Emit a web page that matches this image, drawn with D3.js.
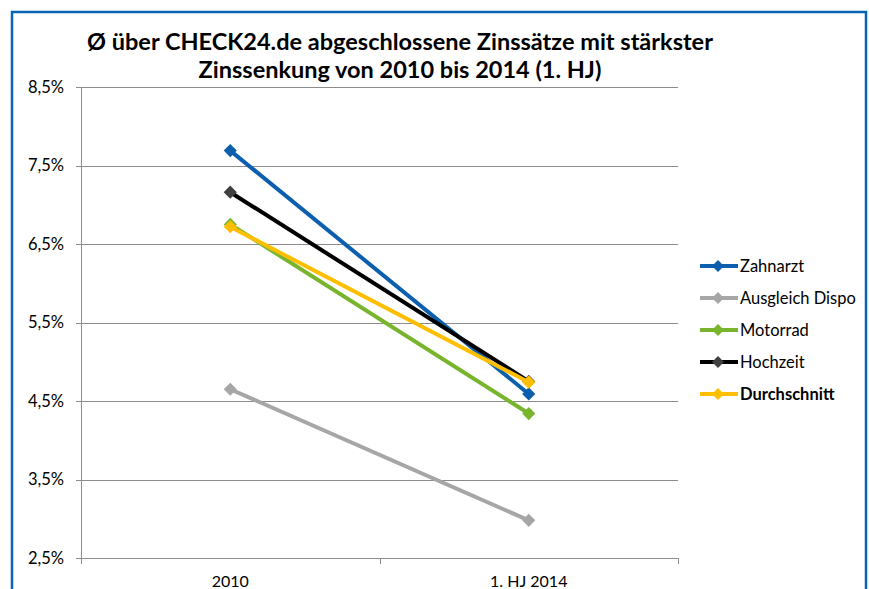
<!DOCTYPE html>
<html>
<head>
<meta charset="utf-8">
<script src="https://cdn.jsdelivr.net/npm/d3@7"></script>
<style>
  body { margin: 0; background: #fff; }
  text { font-family: Lato, "Open Sans", sans-serif; }
</style>
</head>
<body>
<div id="chart"></div>
<script>
var width = 869;
var height = 589;

// data
var categories = ["2010", "1. HJ 2014"];
var seriesNames = ["Zahnarzt", "Ausgleich Dispo", "Motorrad", "Hochzeit", "Durchschnitt"];
var zahnarzt = [7.69, 4.59];
var ausgleichDispo = [4.65, 2.98];
var motorrad = [6.75, 4.34];
var hochzeit = [7.16, 4.75];
var durchschnitt = [6.72, 4.74];
var yTicks = [2.5, 3.5, 4.5, 5.5, 6.5, 7.5, 8.5];

var lineColors = ["#0b5fae", "#a6a6a6", "#78b52c", "#000000", "#ffbf00"];
var markerColors = ["#0b5fae", "#a6a6a6", "#78b52c", "#404040", "#ffbf00"];

var series = [zahnarzt, ausgleichDispo, motorrad, hochzeit, durchschnitt].map(function(v, i){
  return { name: seriesNames[i], values: v, line: lineColors[i], marker: markerColors[i] };
});

var svg = d3.select("#chart")
  .append("svg")
  .attr("width", width)
  .attr("height", height);

// chart frame
svg.append("rect")
  .attr("x", 12).attr("y", 12)
  .attr("width", 854).attr("height", 600)
  .attr("fill", "none")
  .attr("stroke", "#0a63b4")
  .attr("stroke-width", 2.5);

var plot = { left: 81, right: 678, top: 87, bottom: 558 };

var x = d3.scaleBand()
  .domain(categories)
  .range([plot.left, plot.right]);

var y = d3.scaleLinear()
  .domain([2.5, 8.5])
  .range([plot.bottom, plot.top]);

var fmt = function(d){ return d3.format(".1f")(d).replace(".", ",") + "%"; };

// gridlines
svg.append("g")
  .selectAll("line")
  .data(yTicks)
  .enter()
  .append("line")
  .attr("x1", plot.left - 5)
  .attr("x2", plot.right)
  .attr("y1", function(d){ return Math.round(y(d)) + 0.5; })
  .attr("y2", function(d){ return Math.round(y(d)) + 0.5; })
  .attr("stroke", "#8c8c8c")
  .attr("stroke-width", 1);

// y axis line
svg.append("line")
  .attr("x1", plot.left + 0.5).attr("x2", plot.left + 0.5)
  .attr("y1", plot.top).attr("y2", plot.bottom)
  .attr("stroke", "#8c8c8c");

// y labels
svg.append("g")
  .selectAll("text")
  .data(yTicks)
  .enter()
  .append("text")
  .attr("x", 64)
  .attr("y", function(d){ return y(d); })
  .attr("dy", "0.35em")
  .attr("text-anchor", "end")
  .attr("font-size", 16.5)
  .attr("fill", "#000")
  .text(fmt);

// x axis ticks
var xTickPos = [plot.left, x(categories[1]), plot.right];
svg.append("g")
  .selectAll("line")
  .data(xTickPos)
  .enter()
  .append("line")
  .attr("x1", function(d){ return Math.round(d) + 0.5; })
  .attr("x2", function(d){ return Math.round(d) + 0.5; })
  .attr("y1", plot.bottom)
  .attr("y2", plot.bottom + 6)
  .attr("stroke", "#8c8c8c");

// x labels
svg.append("g")
  .selectAll("text")
  .data(categories)
  .enter()
  .append("text")
  .attr("x", function(d){ return x(d) + x.bandwidth() / 2; })
  .attr("y", 581)
  .attr("dy", "0.35em")
  .attr("text-anchor", "middle")
  .attr("font-size", 16)
  .text(function(d){ return d; });

// lines
var line = d3.line()
  .x(function(d, i){ return x(categories[i]) + x.bandwidth() / 2; })
  .y(function(d){ return y(d); });

var diamond = d3.symbol().type(d3.symbolDiamond2).size(110);

var sg = svg.append("g")
  .selectAll("g")
  .data(series)
  .enter()
  .append("g");

sg.append("path")
  .attr("d", function(d){ return line(d.values); })
  .attr("fill", "none")
  .attr("stroke", function(d){ return d.line; })
  .attr("stroke-width", 4);

sg.selectAll("path.m")
  .data(function(d){ return d.values.map(function(v, i){ return { v: v, i: i, c: d.marker }; }); })
  .enter()
  .append("path")
  .attr("class", "m")
  .attr("d", diamond)
  .attr("transform", function(d){
    return "translate(" + (x(categories[d.i]) + x.bandwidth() / 2) + "," + y(d.v) + ")";
  })
  .attr("fill", function(d){ return d.c; });

// legend
var legend = svg.append("g")
  .attr("transform", "translate(700,266)");

var li = legend.selectAll("g")
  .data(series)
  .enter()
  .append("g")
  .attr("transform", function(d, i){ return "translate(0," + (i * 32) + ")"; });

li.append("line")
  .attr("x1", 0).attr("x2", 38)
  .attr("stroke", function(d){ return d.line; })
  .attr("stroke-width", 4);

li.append("path")
  .attr("d", d3.symbol().type(d3.symbolDiamond2).size(90))
  .attr("transform", "translate(18,0)")
  .attr("fill", function(d){ return d.marker; });

li.append("text")
  .attr("x", 40)
  .attr("dy", "0.35em")
  .attr("font-size", 16.5)
  .attr("font-weight", function(d, i){ return i === 4 ? "bold" : "normal"; })
  .text(function(d){ return d.name; });

// title
var title = svg.append("text")
  .attr("x", 400)
  .attr("text-anchor", "middle")
  .attr("font-size", 23.5)
  .attr("font-weight", "bold");

title.append("tspan").attr("x", 400).attr("y", 50)
  .text("Ø über CHECK24.de abgeschlossene Zinssätze mit stärkster");
title.append("tspan").attr("x", 400).attr("y", 78)
  .text("Zinssenkung von 2010 bis 2014 (1. HJ)");
</script>
</body>
</html>
